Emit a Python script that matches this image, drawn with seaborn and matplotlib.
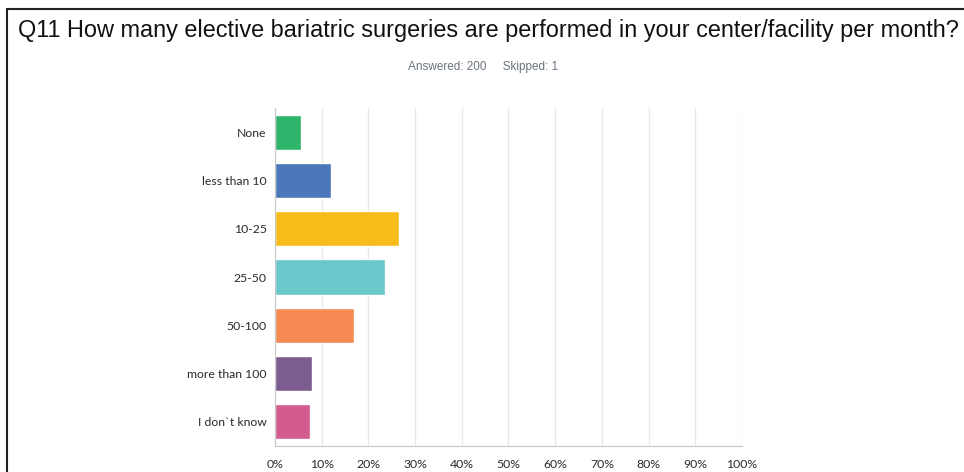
import seaborn as sns
import pandas as pd
import matplotlib.pyplot as plt
from matplotlib.lines import Line2D
from matplotlib.ticker import FuncFormatter

# survey answers (share of respondents, %)
answers = ["None", "less than 10", "10-25", "25-50", "50-100", "more than 100", "I don`t know"]
shares = [5.5, 12.0, 26.5, 23.5, 17.0, 8.0, 7.5]
colors = ["#2eb56b", "#4a78b8", "#f6bc1a", "#6bc8ca", "#f58a52", "#7d5c8f", "#d35b8d"]
x_ticks = [0, 10, 20, 30, 40, 50, 60, 70, 80, 90, 100]

df = pd.DataFrame({"answer": answers, "share": shares})

sns.set_style("white")
plt.rcParams["font.family"] = ["Lato", "DejaVu Sans"]

fig = plt.figure(figsize=(9.64, 4.72), dpi=100)
ax = fig.add_axes([275 / 964, 1 - 446 / 472, (742 - 275) / 964, (446 - 108) / 472])

sns.barplot(data=df, x="share", y="answer", hue="answer", palette=colors,
            legend=False, width=0.73, saturation=1, ax=ax)

ax.set_xlim(0, 100)
ax.set_ylim(6.5, -0.5)
ax.set_xticks(x_ticks)
ax.xaxis.set_major_formatter(FuncFormatter(lambda v, p: f"{v:.0f}%"))
ax.grid(axis="x", color="#e8e8e8", linewidth=1)
ax.set_axisbelow(True)
for s in ["top", "right"]:
    ax.spines[s].set_visible(False)
ax.spines["left"].set_color("#c8c8c8")
ax.spines["bottom"].set_color("#c8c8c8")
ax.tick_params(axis="both", length=0, labelsize=8.8, labelcolor="#2a2a2a")
ax.tick_params(axis="x", pad=9)
ax.tick_params(axis="y", pad=6)
ax.set_xlabel("")
ax.set_ylabel("")

title_font = ["Liberation Sans Narrow", "Liberation Sans", "DejaVu Sans"]
fig.text(18 / 964, 1 - 31 / 472, "Q11 How many elective bariatric surgeries are performed in your center/facility per month?",
         fontsize=16.9, family=title_font, va="center", ha="left", color="#111111")
fig.text(483 / 964, 1 - 67 / 472, "Answered: 200     Skipped: 1", fontsize=8.5,
         family=title_font, va="center", ha="center", color="#6b7480")

# frame lines at top and left of the screenshot
fig.add_artist(Line2D([7 / 964, 1], [1 - 9 / 472, 1 - 9 / 472], color="#222222", linewidth=1.5,
                      transform=fig.transFigure))
fig.add_artist(Line2D([7 / 964, 7 / 964], [0, 1 - 9 / 472], color="#222222", linewidth=1.5,
                      transform=fig.transFigure))

fig.savefig("out.png", dpi=100)
